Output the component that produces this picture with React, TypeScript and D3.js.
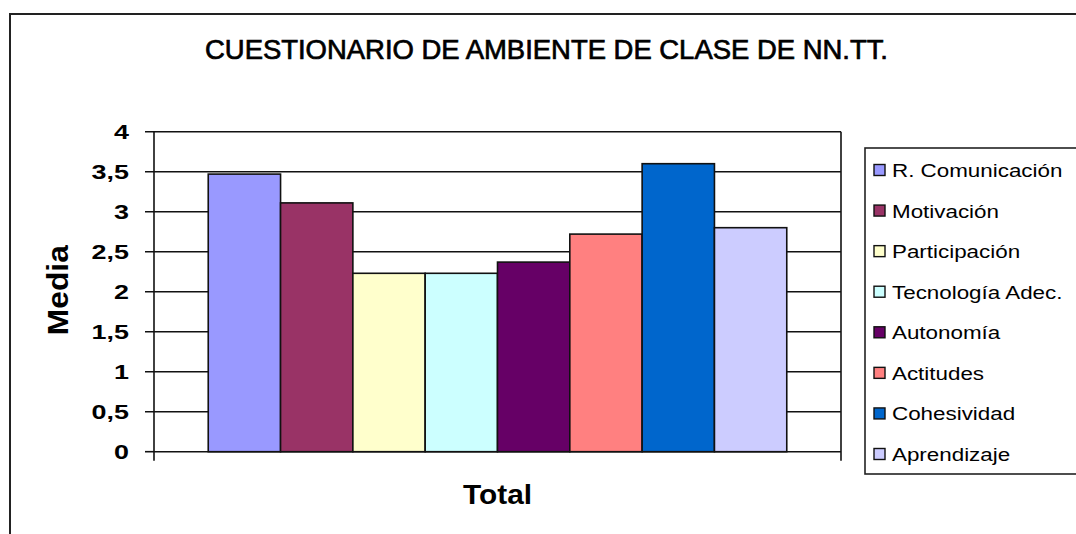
import React from 'react';
import * as d3 from 'd3';

// data
const series = [
  'R. Comunicación',
  'Motivación',
  'Participación',
  'Tecnología Adec.',
  'Autonomía',
  'Actitudes',
  'Cohesividad',
  'Aprendizaje',
];
const values = [3.47, 3.11, 2.23, 2.23, 2.37, 2.72, 3.6, 2.8];
const colors = ['#9999FF', '#993366', '#FFFFCC', '#CCFFFF', '#660066', '#FF8080', '#0066CC', '#CCCCFF'];
const yTicks = [0, 0.5, 1, 1.5, 2, 2.5, 3, 3.5, 4];
const tickLabels = ['0', '0,5', '1', '1,5', '2', '2,5', '3', '3,5', '4'];

const FONT = '"Liberation Sans", Arial, sans-serif';

const App = () => {
  const width = 1076;
  const height = 534;

  // plot area
  const left = 154;
  const right = 841;
  const top = 131.7;
  const bottom = 451.7;

  const x = d3.scaleBand<string>()
    .domain(series)
    .range([left, right])
    .paddingInner(0)
    .paddingOuter(0.75);

  const y = d3.scaleLinear()
    .domain([0, 4])
    .range([bottom, top]);

  // legend
  const legendLeft = 865;
  const legendTop = 148;
  const legendBottom = 474;
  const rowY = d3.scalePoint<string>()
    .domain(series)
    .range([170, 454]);

  return (
    <svg
      width={width}
      height={height}
      style={{ position: 'absolute', left: 0, top: 0, background: '#fff' }}
      fontFamily={FONT}
    >
      {/* outer frame, runs off the right and bottom */}
      <rect x={10} y={14} width={1100} height={560} fill="#fff" stroke="#222" strokeWidth={2} />

      <text
        x={546.5}
        y={58.5}
        textAnchor="middle"
        fontSize={27}
        textLength={683}
        lengthAdjust="spacingAndGlyphs"
        fill="#000"
        stroke="#000"
        strokeWidth={0.7}
      >
        CUESTIONARIO DE AMBIENTE DE CLASE DE NN.TT.
      </text>

      {/* gridlines + y ticks */}
      {yTicks.map((t, i) => (
        <g key={t}>
          <line x1={left - 9} x2={t === 0 ? left : right} y1={y(t)} y2={y(t)} stroke="#111" strokeWidth={1.6} />
          <text
            transform={`translate(129, ${y(t) + 7.5}) scale(1.38, 1)`}
            textAnchor="end"
            fontSize={19.5}
            fontWeight="bold"
            fill="#000"
          >
            {tickLabels[i]}
          </text>
        </g>
      ))}

      {/* bars */}
      {values.map((v, i) => (
        <rect
          key={series[i]}
          x={x(series[i])}
          y={y(v)}
          width={x.bandwidth()}
          height={y(0) - y(v)}
          fill={colors[i]}
          stroke="#111"
          strokeWidth={1.6}
        />
      ))}

      {/* axes */}
      <line x1={left} x2={right} y1={y(0)} y2={y(0)} stroke="#111" strokeWidth={1.6} />
      <line x1={left} x2={left} y1={top} y2={bottom + 9} stroke="#111" strokeWidth={1.6} />
      <line x1={right} x2={right} y1={top} y2={bottom + 9} stroke="#111" strokeWidth={1.6} />

      <text
        x={497.5}
        y={504}
        textAnchor="middle"
        fontSize={27}
        fontWeight="bold"
        textLength={69}
        lengthAdjust="spacingAndGlyphs"
        fill="#000"
      >
        Total
      </text>

      <text
        transform={`translate(67.5, ${(top + bottom) / 2 - 1.5}) rotate(-90)`}
        textAnchor="middle"
        fontSize={29}
        fontWeight="bold"
        textLength={90}
        lengthAdjust="spacingAndGlyphs"
        fill="#000"
      >
        Media
      </text>

      {/* legend */}
      <rect
        x={legendLeft}
        y={legendTop}
        width={260}
        height={legendBottom - legendTop}
        fill="#fff"
        stroke="#222"
        strokeWidth={1.6}
      />
      {series.map((s, i) => {
        const cy = rowY(s) as number;
        return (
          <g key={s}>
            <rect x={874} y={cy - 5.5} width={11} height={11} fill={colors[i]} stroke="#111" strokeWidth={1.4} />
            <text
              transform={`translate(892, ${cy + 7}) scale(1.28, 1)`}
              fontSize={17.5}
              fill="#000"
            >
              {s}
            </text>
          </g>
        );
      })}
    </svg>
  );
};

export default App;
